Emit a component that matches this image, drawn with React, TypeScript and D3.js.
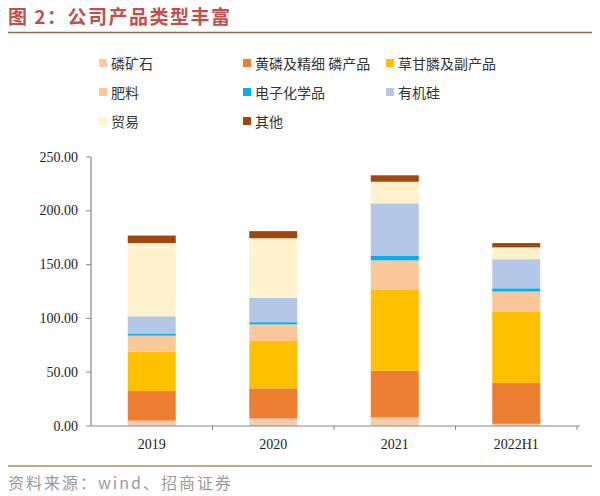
import React from "react";
import * as d3 from "d3";

const categories = ["2019", "2020", "2021", "2022H1"];
const seriesNames = ["磷矿石", "黄磷及精细 磷产品", "草甘膦及副产品", "肥料", "电子化学品", "有机硅", "贸易", "其他"];
const s磷矿石 = [5, 7, 8, 2];
const s黄磷 = [27.5, 28, 43.4, 38];
const s草甘膦 = [36.5, 44, 75.6, 66];
const s肥料 = [15, 15.5, 27, 19];
const s电子 = [2, 2, 4, 3];
const s有机硅 = [16, 22.6, 49, 27];
const s贸易 = [68, 55.4, 20, 11];
const s其他 = [7, 6.6, 6, 4];
const seriesValues = [s磷矿石, s黄磷, s草甘膦, s肥料, s电子, s有机硅, s贸易, s其他];
const colors = ["#F8CBAD", "#ED7D31", "#FFC000", "#F9C79A", "#00B0F0", "#B4C7E7", "#FFF2CC", "#9E480E"];
const yTicks = [0, 50, 100, 150, 200, 250];

export default function App() {
  const left = 91, right = 577, top = 157, bottom = 426;
  const x = d3.scaleBand<string>().domain(categories).range([left, right]).paddingInner(0.6).paddingOuter(0.3);
  const y = d3.scaleLinear().domain([0, 250]).range([bottom, top]);
  const table = categories.map((c, i) => {
    const o: any = { cat: c };
    seriesNames.forEach((n, k) => (o[n] = seriesValues[k][i]));
    return o;
  });
  const stack = d3.stack<any>().keys(seriesNames)(table);
  const step = (right - left) / categories.length;
  const bw = 48;
  const legendCols = [103, 247, 390];
  const legendRows = [63, 92, 121];
  const cjk = '"Noto Sans CJK SC", sans-serif';
  return (
    <svg width={600} height={496} style={{ position: "absolute", left: 0, top: 0, background: "#fff" }}>
      <text x={8} y={24} fontFamily={cjk} fontSize={19} fontWeight="bold" fill="#C0504D" letterSpacing={1.5}>图 2：公司产品类型丰富</text>
      <line x1={8} x2={592} y1={32.5} y2={32.5} stroke="#8E6E55" strokeWidth={1.5} />
      {seriesNames.map((n, k) => {
        const col = legendCols[k % 3];
        const row = legendRows[Math.floor(k / 3)];
        return (
          <g key={n}>
            <rect x={col - 4} y={row - 4} width={8} height={8} fill={colors[k]} />
            <text x={col + 8} y={row} dominantBaseline="central" fontFamily={cjk} fontSize={14} fill="#333">{n}</text>
          </g>
        );
      })}
      {stack.map((layer, k) => (
        <g key={k} fill={colors[k]}>
          {layer.map((d, i) => {
            const cx = (x(categories[i]) as number) + x.bandwidth() / 2;
            return <rect key={i} x={cx - bw / 2} y={y(d[1])} width={bw} height={Math.max(0, y(d[0]) - y(d[1]))} />;
          })}
        </g>
      ))}
      <line x1={left} x2={left} y1={top} y2={bottom} stroke="#888" strokeWidth={1.2} />
      {yTicks.map((t) => (
        <g key={t}>
          <line x1={left - 5} x2={left} y1={y(t)} y2={y(t)} stroke="#888" />
          <text x={78} y={y(t)} dominantBaseline="central" textAnchor="end" fontFamily='"Liberation Serif", serif' fontSize={14} fill="#222">{t.toFixed(2)}</text>
        </g>
      ))}
      <line x1={left} x2={right + 3} y1={bottom} y2={bottom} stroke="#888" strokeWidth={1.2} />
      {categories.map((c, i) => (
        <g key={c}>
          <line x1={left + step * (i + 1)} x2={left + step * (i + 1)} y1={bottom} y2={bottom + 4} stroke="#888" />
          <text x={(x(c) as number) + x.bandwidth() / 2} y={444} dominantBaseline="central" textAnchor="middle" fontFamily='"Liberation Serif", serif' fontSize={14} fill="#222">{c}</text>
        </g>
      ))}
      <line x1={8} x2={592} y1={466} y2={466} stroke="#B08A6A" strokeWidth={1.5} />
      <text x={8} y={482} dominantBaseline="central" fontFamily={cjk} fontSize={16} fill="#9A9A9A" letterSpacing={2}>资料来源：wind、招商证券</text>
    </svg>
  );
}
